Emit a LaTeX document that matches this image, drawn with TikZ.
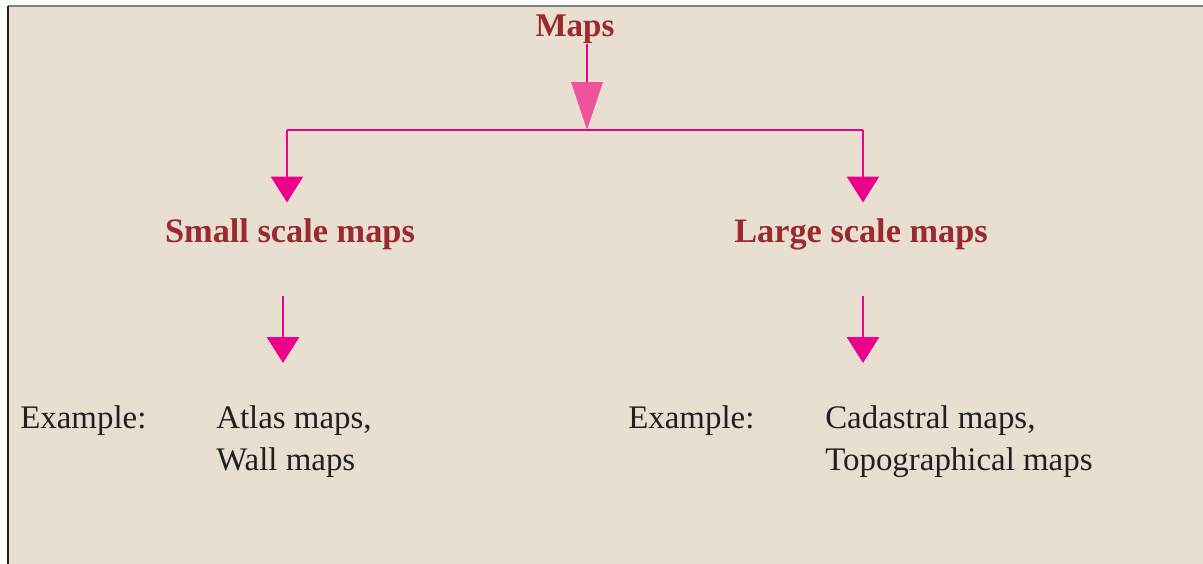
\documentclass[tikz,border=0pt]{standalone}
\usepackage{fontspec}
\setmainfont{Liberation Serif}
\usetikzlibrary{arrows.meta}
\definecolor{papier}{RGB}{232,223,209}
\definecolor{magenta}{RGB}{236,0,140}
\definecolor{hellpink}{RGB}{240,82,155}
\definecolor{dunkelrot}{RGB}{154,42,46}
\definecolor{schrift}{RGB}{35,31,32}

\begin{document}
\begin{tikzpicture}
     [
     x=0.025cm, y=-0.025cm,
     titel/.style = {font=\fontsize{24.4}{29}\selectfont\bfseries, text=dunkelrot, inner sep=0pt},
     beispiel/.style = {font=\fontsize{23.4}{29.6}\selectfont, text=schrift, inner sep=0pt, align=left},
     linie/.style = {draw=magenta, line width=2.1pt},
     pfeil/.style = {linie, -{Triangle[width=22.7pt,length=18.4pt]}},
     grosspfeil/.style = {linie, -{Triangle[width=22pt,length=34pt,color=hellpink]}}
     ]

     \useasboundingbox (0,0) rectangle (1203,564);
     \fill[papier] (8,6) rectangle (1203,564);
     \draw[gray, line width=1.4pt] (8,6) -- (1203,6);
     \draw[schrift, line width=1.4pt] (8,6) -- (8,564);

     \node[titel, font=\fontsize{23.5}{28}\selectfont\bfseries, anchor=base] (maps) at (575,37) {Maps};
     \node[titel, anchor=base] (small) at (290,242) {Small scale maps};
     \node[titel, anchor=base] (large) at (861,242) {Large scale maps};

     % two-line nodes sit on their last line
     \node[beispiel, anchor=base west] (exl) at (20,428) {Example:};
     \node[beispiel, anchor=base west] (atlas) at (216,470) {Atlas maps,\\Wall maps};
     \node[beispiel, anchor=base west] (exr) at (628,428) {Example:};
     \node[beispiel, anchor=base west] (cadastral) at (825,470) {Cadastral maps,\\Topographical maps};

     \coordinate (split) at (587,130);
     \coordinate (lecke) at (287,130);
     \coordinate (recke) at (863,130);
     \coordinate (lspitze) at (283,363);
     \coordinate (rspitze) at (863,363);

     % top arrow and branches
     \draw[grosspfeil] (split |- maps.south) -- (split);
     \draw[linie] (lecke) -- (recke);
     \draw[pfeil, shorten >=11pt] (lecke) -- (lecke |- small.north);
     \draw[pfeil, shorten >=11pt] (recke) -- (recke |- large.north);

     % down to the examples
     \draw[pfeil, shorten <=33pt] (lspitze |- small.south) -- (lspitze);
     \draw[pfeil, shorten <=33pt] (rspitze |- large.south) -- (rspitze);
\end{tikzpicture}
\end{document}
